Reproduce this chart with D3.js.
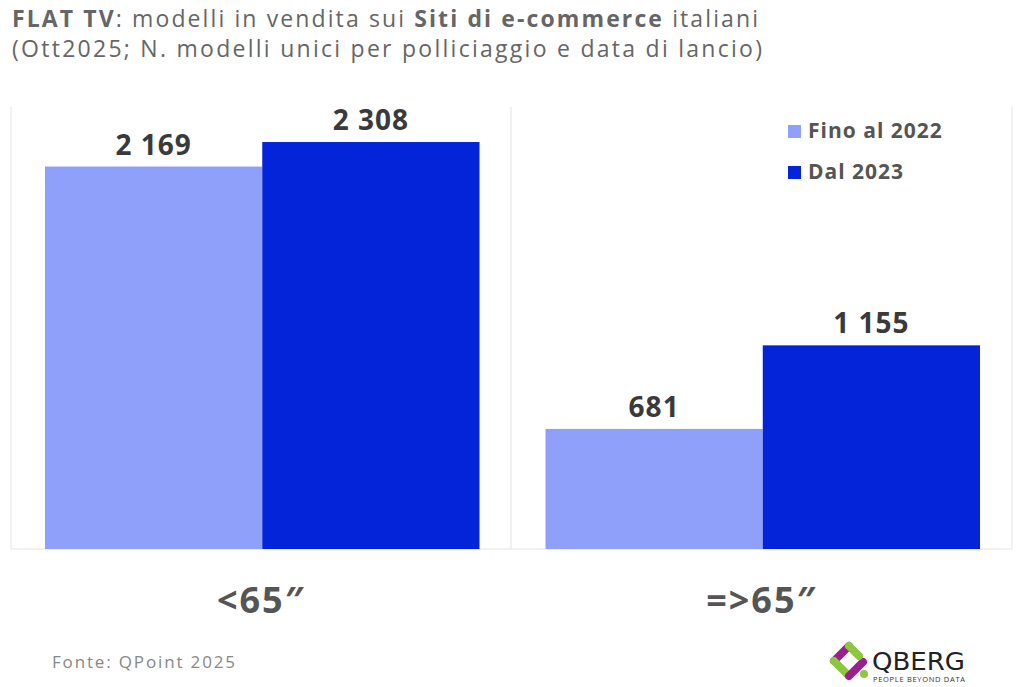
<!DOCTYPE html><html><head><meta charset="utf-8"><script src="https://cdn.jsdelivr.net/npm/d3@7"></script>
<style>body{margin:0;background:#fff}svg{font-family:"Open Sans",Lato,sans-serif}</style></head><body><svg id="c" width="1024" height="687"></svg>
<script>
const categories=["<65\u2033","=>65\u2033"];
const seriesNames=["Fino al 2022","Dal 2023"];
const fino2022=[2169,681];
const dal2023=[2308,1155];
const colors=["#8fa0fb","#0424d9"];
const svg=d3.select("#c");
const x=d3.scaleBand().domain(categories).range([11,1012]).paddingInner(0).paddingOuter(0);
const xs=d3.scaleBand().domain(seriesNames).range([34,x.bandwidth()-32]);
const y=d3.scaleLinear().domain([0,2518]).range([549,105]);
[11,511,1012].forEach(px=>svg.append("line").attr("x1",px).attr("x2",px).attr("y1",107).attr("y2",549).attr("stroke","#e3e3e3"));
svg.append("line").attr("x1",11).attr("x2",1012).attr("y1",549).attr("y2",549).attr("stroke","#e3e3e3");
const series=[fino2022,dal2023];
categories.forEach((c,i)=>{
  series.forEach((s,j)=>{
    const bx=x(c)+xs(seriesNames[j]);
    svg.append("rect").attr("x",bx).attr("y",y(s[i])).attr("width",xs.bandwidth()).attr("height",y(0)-y(s[i])).attr("fill",colors[j]);
    svg.append("text").attr("x",bx+xs.bandwidth()/2).attr("y",y(s[i])-12).attr("text-anchor","middle")
      .attr("font-size",28).attr("font-weight",700).attr("letter-spacing",1).attr("fill","#3a3a3a").text(d3.format(",")(s[i]).replace(/,/g," "));
  });
  svg.append("text").attr("x",x(c)+x.bandwidth()/2).attr("y",613).attr("text-anchor","middle").attr("font-size",36).attr("font-weight",700).attr("letter-spacing",2).attr("fill","#555").text(c);
});
seriesNames.forEach((n,j)=>{
  svg.append("rect").attr("x",788).attr("y",125+j*41).attr("width",13).attr("height",13).attr("fill",colors[j]);
  svg.append("text").attr("x",808).attr("y",138+j*41).attr("font-size",21).attr("font-weight",700).attr("letter-spacing",1).attr("fill","#555").text(n);
});
const t=svg.append("text").attr("x",12).attr("y",27).attr("font-size",23).attr("fill","#666").attr("textLength",746).attr("lengthAdjust","spacing");
t.append("tspan").attr("font-weight",700).text("FLAT TV");
t.append("tspan").text(": modelli in vendita sui ");
t.append("tspan").attr("font-weight",700).text("Siti di e-commerce");
t.append("tspan").text(" italiani");
svg.append("text").attr("x",12).attr("y",57).attr("font-size",23).attr("fill","#666").attr("textLength",750).attr("lengthAdjust","spacing").text("(Ott2025; N. modelli unici per polliciaggio e data di lancio)");
svg.append("text").attr("x",52).attr("y",668).attr("font-size",17).attr("fill","#888").attr("textLength",183).text("Fonte: QPoint 2025");
const g=svg.append("g").attr("transform","translate(849,661)");
g.append("path").attr("d","M-15,0 L0,-15").attr("stroke","#9b1f8f").attr("stroke-width",8).attr("stroke-linecap","round");
g.append("path").attr("d","M-15,0 L0,15").attr("stroke","#8dc63f").attr("stroke-width",8).attr("stroke-linecap","round");
g.append("path").attr("d","M0,15 L14,1").attr("stroke","#9b1f8f").attr("stroke-width",8).attr("stroke-linecap","round");
g.append("path").attr("d","M0,-15 L10,-5").attr("stroke","#8dc63f").attr("stroke-width",8).attr("stroke-linecap","round");
g.append("circle").attr("cx",15).attr("cy",13).attr("r",4).attr("fill","#8dc63f");
svg.append("text").attr("x",872).attr("y",670).attr("font-size",24).attr("fill","#222").attr("font-family","DejaVu Sans").attr("textLength",93).attr("lengthAdjust","spacingAndGlyphs").text("QBERG");
svg.append("text").attr("x",873).attr("y",682).attr("font-size",7.5).attr("fill","#333").attr("textLength",92).text("PEOPLE BEYOND DATA");
</script></body></html>
